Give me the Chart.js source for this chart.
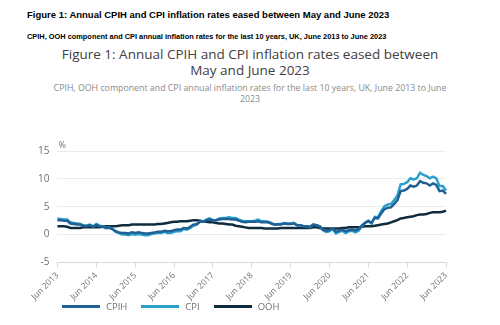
<!DOCTYPE html>
<html>
<head>
<meta charset="utf-8">
<script src="https://cdn.jsdelivr.net/npm/chart.js@4"></script>
<style>
  html, body { margin: 0; padding: 0; background: #fff; }
  body { width: 500px; height: 325px; position: relative; overflow: hidden; font-family: 'Open Sans', sans-serif; }
  .head1 { position: absolute; left: 27px; top: 9px; font: bold 9.5px 'Liberation Sans', Arial, sans-serif; color: #000; white-space: nowrap; }
  .head2 { position: absolute; left: 27px; top: 32px; font: bold 7.4px 'Liberation Sans', Arial, sans-serif; color: #000; white-space: nowrap; }
  .title { position: absolute; left: 0; width: 500px; top: 46px; text-align: center; font-size: 13.5px; line-height: 16px; color: #414042; }
  .subtitle { position: absolute; left: 0; width: 500px; top: 83px; text-align: center; font-size: 8.8px; line-height: 11px; color: #8a8a8a; }
  #wrap { position: absolute; left: 0; top: 135px; width: 500px; height: 170px; }
  #legend { position: absolute; left: 62px; top: 300px; display: flex; font-size: 9.5px; color: #707070; }
  #legend .item { display: flex; align-items: center; margin-right: 14px; }
  #legend .line { width: 38px; height: 3px; margin-right: 6px; }
</style>
</head>
<body>
<div class="head1">Figure 1: Annual CPIH and CPI inflation rates eased between May and June 2023</div>
<div class="head2">CPIH, OOH component and CPI annual inflation rates for the last 10 years, UK, June 2013 to June 2023</div>
<div class="title">Figure 1: Annual CPIH and CPI inflation rates eased between<br>May and June 2023</div>
<div class="subtitle">CPIH, OOH component and CPI annual inflation rates for the last 10 years, UK, June 2013 to June<br>2023</div>
<div id="wrap"><canvas id="chart"></canvas></div>
<div id="legend"></div>
<script>
const MONTHS = ['Jan', 'Feb', 'Mar', 'Apr', 'May', 'Jun', 'Jul', 'Aug', 'Sep', 'Oct', 'Nov', 'Dec'];

// Jun 2013 .. Jun 2023, monthly
const labels = [];
for (let y = 2013; y <= 2023; y++) {
  for (let m = 0; m < 12; m++) {
    if (y === 2013 && m < 5) continue;
    if (y === 2023 && m > 5) continue;
    labels.push(MONTHS[m] + ' ' + y);
  }
}

const cpih = [
  2.6, 2.6, 2.5, 2.5, 2.0, 1.9, 1.8,
  1.8, 1.6, 1.5, 1.7, 1.4, 1.7, 1.5, 1.4, 1.2, 1.2, 1.0, 0.6,
  0.4, 0.3, 0.3, 0.2, 0.4, 0.3, 0.4, 0.3, 0.2, 0.2, 0.3, 0.4,
  0.5, 0.5, 0.7, 0.6, 0.6, 0.8, 0.9, 0.9, 1.2, 1.1, 1.4, 1.8,
  1.9, 2.3, 2.3, 2.6, 2.7, 2.6, 2.6, 2.7, 2.8, 2.8, 2.8, 2.7,
  2.7, 2.5, 2.3, 2.2, 2.3, 2.3, 2.3, 2.4, 2.2, 2.2, 2.2, 2.0,
  1.8, 1.8, 1.8, 2.0, 1.9, 1.9, 2.0, 1.7, 1.7, 1.5, 1.5, 1.4,
  1.8, 1.7, 1.5, 0.9, 0.7, 0.8, 1.1, 0.5, 0.7, 0.9, 0.6, 0.8,
  0.9, 0.7, 1.0, 1.6, 2.1, 2.4, 2.1, 3.0, 2.9, 3.8, 4.6, 4.8,
  4.9, 5.5, 6.2, 7.8, 7.9, 8.2, 8.8, 8.6, 8.8, 9.6, 9.3, 9.2,
  8.8, 9.2, 8.9, 7.8, 7.9, 7.3
];

const cpi = [
  2.9, 2.8, 2.7, 2.7, 2.2, 2.1, 2.0,
  1.9, 1.7, 1.6, 1.8, 1.5, 1.9, 1.6, 1.5, 1.2, 1.3, 1.0, 0.5,
  0.3, 0.0, 0.0, -0.1, 0.1, 0.0, 0.1, 0.0, -0.1, -0.1, 0.1, 0.2,
  0.3, 0.3, 0.5, 0.3, 0.3, 0.5, 0.6, 0.6, 1.0, 0.9, 1.2, 1.6,
  1.8, 2.3, 2.3, 2.7, 2.9, 2.6, 2.6, 2.9, 3.0, 3.0, 3.1, 3.0,
  3.0, 2.7, 2.5, 2.4, 2.4, 2.4, 2.5, 2.7, 2.4, 2.4, 2.3, 2.1,
  1.8, 1.9, 1.9, 2.1, 2.0, 2.0, 2.1, 1.7, 1.7, 1.5, 1.5, 1.3,
  1.8, 1.7, 1.5, 0.8, 0.5, 0.6, 1.0, 0.2, 0.5, 0.7, 0.3, 0.6,
  0.7, 0.4, 0.7, 1.5, 2.1, 2.5, 2.0, 3.2, 3.1, 4.2, 5.1, 5.4,
  5.5, 6.2, 7.0, 9.0, 9.1, 9.4, 10.1, 9.9, 10.1, 11.1, 10.7, 10.5,
  10.1, 10.4, 10.1, 8.7, 8.7, 7.9
];

const ooh = [
  1.5, 1.5, 1.5, 1.4, 1.2, 1.2, 1.2,
  1.2, 1.3, 1.3, 1.3, 1.3, 1.3, 1.3, 1.4, 1.5, 1.5, 1.5, 1.5,
  1.6, 1.7, 1.7, 1.7, 1.8, 1.8, 1.8, 1.8, 1.8, 1.8, 1.8, 1.8,
  1.9, 1.9, 2.0, 2.1, 2.2, 2.3, 2.3, 2.4, 2.4, 2.4, 2.5, 2.6,
  2.6, 2.5, 2.4, 2.3, 2.2, 2.2, 2.1, 2.0, 2.0, 1.9, 1.8, 1.8,
  1.6, 1.5, 1.4, 1.3, 1.2, 1.2, 1.2, 1.2, 1.2, 1.1, 1.1, 1.1,
  1.1, 1.1, 1.2, 1.2, 1.2, 1.2, 1.2, 1.2, 1.2, 1.2, 1.2, 1.2,
  1.3, 1.3, 1.2, 1.1, 1.1, 1.1, 1.1, 1.1, 1.1, 1.2, 1.2, 1.3,
  1.3, 1.3, 1.3, 1.4, 1.5, 1.5, 1.5, 1.6, 1.7, 1.8, 1.9, 2.0,
  2.2, 2.4, 2.6, 2.9, 3.0, 3.1, 3.2, 3.3, 3.5, 3.6, 3.6, 3.7,
  3.9, 4.0, 4.0, 4.0, 4.1, 4.3
];

const yTicks = [-5, 0, 5, 10, 15];

const seriesNames = ['CPIH', 'CPI', 'OOH'];
const seriesColors = ['#206095', '#27a0cc', '#0f2c3f'];

const percentLabel = {
  id: 'percentLabel',
  afterDraw(chart) {
    const { ctx, chartArea } = chart;
    ctx.save();
    ctx.font = "9px 'Open Sans'";
    ctx.fillStyle = '#707070';
    ctx.textBaseline = 'bottom';
    ctx.fillText('%', chartArea.left + 1, chartArea.top - 1);
    ctx.restore();
  }
};

const chart = new Chart(document.getElementById('chart'), {
  type: 'line',
  data: {
    labels: labels,
    datasets: [cpih, cpi, ooh].map((d, i) => ({
      label: seriesNames[i],
      data: d,
      borderColor: seriesColors[i],
      backgroundColor: seriesColors[i],
      borderWidth: 2.5,
      pointRadius: 0,
      tension: 0
    }))
  },
  options: {
    responsive: true,
    maintainAspectRatio: false,
    animation: false,
    layout: { padding: { left: 30, right: 54, top: 16, bottom: 0 } },
    plugins: {
      legend: { display: false },
      tooltip: { enabled: false }
    },
    scales: {
      x: {
        offset: false,
        grid: { drawOnChartArea: false, drawTicks: true, tickLength: 5, color: '#d9d9d9' },
        border: { color: '#d9d9d9' },
        ticks: {
          autoSkip: false,
          maxRotation: 45,
          minRotation: 45,
          color: '#707070',
          font: { family: "'Open Sans'", size: 8.5 },
          callback(value, index) {
            return index % 12 === 0 ? labels[index] : null;
          }
        }
      },
      y: {
        min: -5,
        max: 15,
        afterBuildTicks(axis) {
          axis.ticks = yTicks.map(v => ({ value: v }));
        },
        grid: { color: '#ececec', drawTicks: false },
        border: { display: false },
        ticks: {
          padding: 8,
          color: '#707070',
          font: { family: "'Open Sans'", size: 10 }
        }
      }
    }
  },
  plugins: [percentLabel]
});

const legend = document.getElementById('legend');
chart.data.datasets.forEach(ds => {
  const item = document.createElement('div');
  item.className = 'item';
  const line = document.createElement('span');
  line.className = 'line';
  line.style.background = ds.borderColor;
  const txt = document.createElement('span');
  txt.textContent = ds.label;
  item.appendChild(line);
  item.appendChild(txt);
  legend.appendChild(item);
});
</script>
</body>
</html>
